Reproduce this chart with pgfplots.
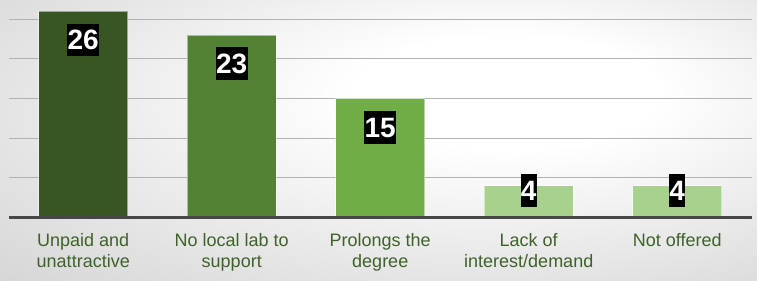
\documentclass[border=0pt]{standalone}
\usepackage{pgfplots}
\pgfplotsset{compat=1.18}
\usepackage{fontspec}
\setmainfont{Liberation Sans}
\definecolor{c1}{HTML}{375623}
\definecolor{c2}{HTML}{548235}
\definecolor{c3}{HTML}{70AD47}
\definecolor{c4}{HTML}{A9D18E}
\definecolor{lbl}{HTML}{3E6229}
\pgfdeclareradialshading{bg}{\pgfpoint{10bp}{10bp}}{color(0bp)=(white); color(10bp)=(white); color(68bp)=(black!30)}
\begin{document}
\begin{tikzpicture}
\shade[shading=bg] (0,0) rectangle (757bp,281bp);
\begin{axis}[
  at={(9bp,63.5bp)}, anchor=south west,
  scale only axis, width=742.5bp, height=217.5bp,
  xmin=-0.5, xmax=4.5, ymin=0, ymax=27.43,
  axis line style={draw=none},
  /pgf/number format/assume math mode=true,
  ytick={5,10,15,20,25}, yticklabels={,,,,,},
  ymajorgrids, grid style={line width=1.1bp, color=black!30},
  major tick length=0pt,
  xtick={0,1,2,3,4},
  xticklabels={{Unpaid and\\unattractive},{No local lab to\\support},{Prolongs the\\degree},{Lack of\\interest/demand},{Not offered}},
  xticklabel style={align=center, font=\fontsize{18bp}{20.5bp}\selectfont, text=lbl, inner sep=0pt, anchor=north, yshift=-16bp},
  ybar, bar width=89bp, bar shift=0pt,
  nodes near coords,
  every node near coord/.style={anchor=north, yshift=-11.7bp, fill=black, text=white,
     font=\fontsize{28bp}{28bp}\selectfont\bfseries, text height=26bp, text depth=6.2bp,
     inner xsep=0.3bp, inner ysep=0.3bp},
  clip=false,
]
\addplot[fill=c1, draw=white, draw opacity=0.5, line width=1bp] coordinates {(0,26)};
\addplot[fill=c2, draw=white, draw opacity=0.5, line width=1bp] coordinates {(1,23)};
\addplot[fill=c3, draw=white, draw opacity=0.5, line width=1bp] coordinates {(2,15)};
\addplot[fill=c4, draw=white, draw opacity=0.5, line width=1bp, every node near coord/.append style={yshift=23.5bp}] coordinates {(3,4)};
\addplot[fill=c4, draw=white, draw opacity=0.5, line width=1bp, every node near coord/.append style={yshift=23.5bp}] coordinates {(4,4)};
\draw[line width=3.5bp, color=black!72] (rel axis cs:0,0) -- (rel axis cs:1,0);
\end{axis}
\pgfresetboundingbox
\useasboundingbox (0,0) rectangle (757bp,281bp);
\end{tikzpicture}
\end{document}
